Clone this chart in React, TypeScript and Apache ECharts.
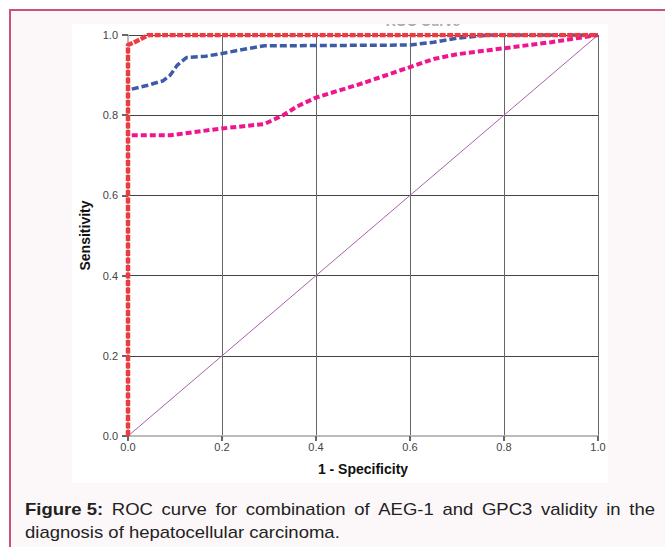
import React, { useEffect, useRef } from 'react';
import * as echarts from 'echarts';

const titleText = 'ROC Curve';
const xAxisName = '1 - Specificity';
const yAxisName = 'Sensitivity';
const axisTicks = [0, 0.2, 0.4, 0.6, 0.8, 1.0];

const redCurve = [
  [0, 0], [0, 0.5], [0, 0.975], [0.01, 0.98], [0.026, 0.989], [0.043, 1.0], [0.5, 1.0], [1.0, 1.0],
];
const blueCurve = [
  [0.008, 0.865], [0.04, 0.874], [0.075, 0.886], [0.09, 0.9], [0.105, 0.925], [0.125, 0.944],
  [0.165, 0.947], [0.2, 0.954], [0.25, 0.965], [0.29, 0.973], [0.45, 0.974], [0.6, 0.975],
  [0.65, 0.982], [0.7, 0.992], [0.77, 1.0], [1.0, 1.0],
];
const pinkCurve = [
  [0.008, 0.75], [0.09, 0.75], [0.2, 0.767], [0.29, 0.778], [0.33, 0.8], [0.36, 0.822],
  [0.4, 0.844], [0.5, 0.88], [0.6, 0.92], [0.65, 0.94], [0.7, 0.952], [0.8, 0.967],
  [0.9, 0.982], [1.0, 1.0],
];
const diagonal = [[0, 0], [1, 1]];

const captionBold = 'Figure 5:';
const captionLine1 = 'ROC curve for combination of AEG-1 and GPC3 validity in the';
const captionLine2 = 'diagnosis of hepatocellular carcinoma.';

export default function App() {
  const ref = useRef<HTMLDivElement>(null);
  useEffect(() => {
    if (!ref.current) return;
    const chart = echarts.init(ref.current, undefined, { renderer: 'svg' });

    const fam = '"Liberation Sans", Arial, sans-serif';
    const fs = 16;
    const canvas = document.createElement('canvas');
    const ctx = canvas.getContext('2d')!;
    const measure = (t: string, bold: boolean) => {
      ctx.font = `${bold ? 'bold ' : ''}${fs}px ${fam}`;
      return ctx.measureText(t).width;
    };
    const line2W = measure(captionLine2, false);
    const sx = 315 / line2W;
    const words1 = [{ t: captionBold, b: true }, ...captionLine1.split(' ').map((t) => ({ t, b: false }))];
    const widths = words1.map((w) => measure(w.t, w.b) * sx);
    const total = widths.reduce((a, b) => a + b, 0);
    const startX = 25, endX = 655;
    const gap = (endX - startX - total) / (words1.length - 1);
    const captionEls: any[] = [];
    let cx = startX;
    words1.forEach((w, i) => {
      captionEls.push({
        type: 'text', x: cx, y: 501, scaleX: sx, z: 5,
        style: { text: w.t, fill: '#222', font: `${w.b ? 'bold ' : ''}${fs}px ${fam}`, verticalAlign: 'top' },
      });
      cx += widths[i] + gap;
    });
    captionEls.push({
      type: 'text', x: startX, y: 524, scaleX: sx, z: 5,
      style: { text: captionLine2, fill: '#222', font: `${fs}px ${fam}`, verticalAlign: 'top' },
    });

    const lineSeries = (name: string, data: number[][], color: string, width: number, dash: number[] | string, z: number) => ({
      type: 'line', name, data, showSymbol: false, symbol: 'none', smooth: false, z,
      lineStyle: { color, width, type: dash, cap: 'butt', join: 'round' },
      silent: true,
    });

    chart.setOption({
      animation: false,
      backgroundColor: '#ffffff',
      graphic: [
        { type: 'rect', z: -10, shape: { x: 10, y: 10, width: 720, height: 620 }, style: { fill: '#fcf8fa', stroke: '#c9517a', lineWidth: 2 } },
        { type: 'rect', z: -9, shape: { x: 72, y: 24, width: 536, height: 459 }, style: { fill: '#ffffff' } },
        { type: 'text', z: -8, x: 423, y: 14, style: { text: titleText, fill: '#aaa', font: `bold 14px ${fam}`, align: 'center', verticalAlign: 'top' } },
        { type: 'rect', z: -7, shape: { x: 300, y: 11, width: 250, height: 13 }, style: { fill: '#fcf8fa' } },
        ...captionEls,
      ],
      grid: { left: 128, right: 67, top: 35, bottom: 111, containLabel: false },
      xAxis: {
        type: 'value', min: 0, max: 1, interval: 0.2,
        name: xAxisName, nameLocation: 'middle', nameGap: 26,
        nameTextStyle: { fontFamily: fam, fontWeight: 'bold', fontSize: 14, color: '#111' },
        axisLine: { show: true, lineStyle: { color: '#bbb', width: 2 } },
        axisTick: { show: true, length: 5, lineStyle: { color: '#666', width: 2 } },
        axisLabel: { color: '#444', fontSize: 11, fontFamily: fam, margin: 5, formatter: (v: number) => (axisTicks.includes(v) ? v.toFixed(1) : '') },
        splitLine: { show: true, lineStyle: { color: '#666', width: 1 } },
      },
      yAxis: {
        type: 'value', min: 0, max: 1, interval: 0.2,
        name: yAxisName, nameLocation: 'middle', nameGap: 36, nameRotate: 90,
        nameTextStyle: { fontFamily: fam, fontWeight: 'bold', fontSize: 14, color: '#111' },
        axisLine: { show: true, lineStyle: { color: '#bbb', width: 2 } },
        axisTick: { show: true, length: 6, lineStyle: { color: '#666', width: 2 } },
        axisLabel: { color: '#444', fontSize: 11, fontFamily: fam, margin: 10, formatter: (v: number) => (axisTicks.includes(v) ? v.toFixed(1) : '') },
        splitLine: { show: true, lineStyle: { color: '#444', width: 1 } },
      },
      series: [
        lineSeries('Reference', diagonal, '#a463a8', 1, 'solid', 2),
        lineSeries('GPC3', pinkCurve, '#f0158e', 4, [6, 3], 3),
        lineSeries('AEG-1', blueCurve, '#3d5ba8', 3.5, [7, 3], 4),
        lineSeries('Combination', redCurve, '#ef3a42', 4.5, [6, 1.5], 5),
      ],
    });
    return () => chart.dispose();
  }, []);
  return <div ref={ref} style={{ position: 'fixed', left: 0, top: 0, width: 665, height: 547 }} />;
}
